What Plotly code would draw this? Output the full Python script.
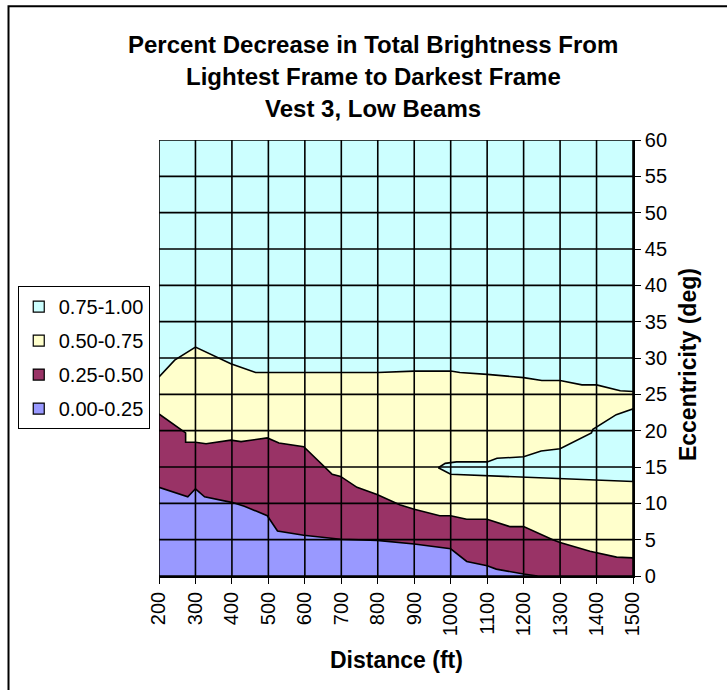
import plotly.graph_objects as go

# ---- data ----
band_labels = ["0.75-1.00", "0.50-0.75", "0.25-0.50", "0.00-0.25"]
band_colors = ["#CCFFFF", "#FFFFCC", "#993366", "#9999FF"]

# upper boundary of the 0.50-0.75 band
yellow_x = [200, 243, 300, 397, 465, 600, 700, 800, 900, 1000, 1025, 1100, 1200, 1250, 1300, 1360, 1400, 1465, 1500]
yellow_y = [27.4, 29.7, 31.5, 29.2, 28.0, 28.0, 28.0, 28.0, 28.2, 28.2, 28.0, 27.75, 27.3, 26.9, 26.9, 26.3, 26.3, 25.5, 25.4]

# 0.75-1.00 island inside the 0.50-0.75 band
island_upper_x = [966, 985, 1016, 1100, 1127, 1200, 1248, 1300, 1386, 1390, 1454, 1500]
island_upper_y = [14.9, 15.5, 15.7, 15.7, 16.2, 16.4, 17.2, 17.5, 19.7, 20.2, 22.2, 23.0]
island_lower_x = [966, 1000, 1100, 1200, 1300, 1400, 1500]
island_lower_y = [14.9, 14.0, 13.7, 13.5, 13.3, 13.2, 13.0]

# upper boundary of the 0.25-0.50 band
maroon_x = [200, 273, 273, 300, 329, 397, 425, 497, 529, 597, 675, 698, 743, 798, 860, 900, 970, 1000, 1044, 1100, 1162, 1200, 1280, 1300, 1382, 1400, 1455, 1500]
maroon_y = [22.3, 19.7, 18.4, 18.4, 18.2, 18.7, 18.5, 19.0, 18.3, 17.8, 14.0, 13.7, 12.2, 11.2, 9.8, 9.2, 8.3, 8.3, 7.8, 7.8, 6.8, 6.8, 5.0, 4.6, 3.4, 3.2, 2.6, 2.5]

# upper boundary of the 0.00-0.25 band
blue_x = [200, 279, 300, 325, 402, 434, 497, 525, 597, 698, 798, 860, 900, 1000, 1044, 1100, 1125, 1200, 1238]
blue_y = [12.2, 10.9, 12.0, 10.9, 10.1, 9.6, 8.3, 6.2, 5.6, 5.05, 4.9, 4.6, 4.4, 3.75, 2.0, 1.4, 0.95, 0.27, 0.0]

x_ticks = list(range(200, 1501, 100))
y_ticks = list(range(0, 61, 5))

FONT = "Liberation Sans, Arial, sans-serif"
LINE = dict(color="black", width=1.6)

fig = go.Figure()

fig.add_trace(go.Scatter(x=yellow_x, y=yellow_y, mode="lines", fill="tozeroy",
                         fillcolor=band_colors[1], line=LINE, showlegend=False, hoverinfo="skip"))
fig.add_trace(go.Scatter(x=island_upper_x + island_lower_x[::-1],
                         y=island_upper_y + island_lower_y[::-1],
                         mode="lines", fill="toself", fillcolor=band_colors[0],
                         line=LINE, showlegend=False, hoverinfo="skip"))
fig.add_trace(go.Scatter(x=maroon_x, y=maroon_y, mode="lines", fill="tozeroy",
                         fillcolor=band_colors[2], line=LINE, showlegend=False, hoverinfo="skip"))
fig.add_trace(go.Scatter(x=blue_x, y=blue_y, mode="lines", fill="tozeroy",
                         fillcolor=band_colors[3], line=LINE, showlegend=False, hoverinfo="skip"))

# legend entries
for i, (lab, col) in enumerate(zip(band_labels, band_colors)):
    fig.add_trace(go.Scatter(x=[None], y=[None], mode="markers", name=lab,
                             legendgroup=lab,
                             marker=dict(symbol="square", size=11, color=col,
                                         line=dict(color="black", width=1.2))))

# grid lines drawn above the filled areas
shapes = []
for xv in x_ticks:
    shapes.append(dict(type="line", xref="x", yref="y", x0=xv, x1=xv, y0=0, y1=60,
                       line=dict(color="black", width=1.6), layer="above"))
for yv in y_ticks:
    shapes.append(dict(type="line", xref="x", yref="y", x0=200, x1=1500, y0=yv, y1=yv,
                       line=dict(color="black", width=1.6), layer="above"))
# outer chart border
shapes.append(dict(type="rect", xref="paper", yref="paper", x0=-0.3175, x1=1.4,
                   y0=-0.5, y1=1.307, line=dict(color="black", width=2), layer="above"))

annotations = []
title_lines = ["Percent Decrease in Total Brightness From",
               "Lightest Frame to Darkest Frame",
               "Vest 3, Low Beams"]
for t, yy in zip(title_lines, [1.218, 1.145, 1.073]):
    annotations.append(dict(text="<b>" + t + "</b>", xref="paper", yref="paper", x=0.4525, y=yy,
                            xanchor="center", yanchor="middle", showarrow=False,
                            font=dict(family=FONT, size=24, color="black")))
annotations.append(dict(text="<b>Distance (ft)</b>", xref="paper", yref="paper", x=0.5, y=-0.193,
                        xanchor="center", yanchor="middle", showarrow=False,
                        font=dict(family=FONT, size=23, color="black")))
annotations.append(dict(text="<b>Eccentricity (deg)</b>", xref="paper", yref="paper", x=1.116, y=0.486,
                        xanchor="center", yanchor="middle", showarrow=False, textangle=-90,
                        font=dict(family=FONT, size=23, color="black")))

fig.update_layout(
    width=727, height=690,
    margin=dict(l=159, r=94, t=140, b=114, autoexpand=False),
    paper_bgcolor="white",
    plot_bgcolor=band_colors[0],
    font=dict(family=FONT, size=20, color="black"),
    shapes=shapes,
    annotations=annotations,
    showlegend=True,
    legend=dict(x=-0.298, y=0.665, xref="paper", yref="paper", xanchor="left", yanchor="top",
                bgcolor="white", bordercolor="black", borderwidth=1,
                font=dict(family=FONT, size=20, color="black"),
                traceorder="grouped", tracegroupgap=5, itemwidth=30),
    xaxis=dict(range=[200, 1500], tickvals=x_ticks, ticktext=[str(v) for v in x_ticks],
               tickangle=-90, ticks="outside", ticklen=6, tickcolor="black",
               showline=True, linecolor="black", linewidth=1.6, showgrid=False, zeroline=False,
               tickfont=dict(family=FONT, size=20, color="black"), fixedrange=True),
    yaxis=dict(range=[0, 60], tickvals=y_ticks, side="right",
               ticks="outside", ticklen=6, tickcolor="black",
               showline=True, linecolor="black", linewidth=1.6, showgrid=False, zeroline=False,
               tickfont=dict(family=FONT, size=20, color="black"), fixedrange=True),
)

# remove the default page margin so the 727x690 figure fills the window exactly
fig.write_html("out.html", config={"displayModeBar": False},
               post_script="document.body.style.margin='0';document.body.style.overflow='hidden';")
